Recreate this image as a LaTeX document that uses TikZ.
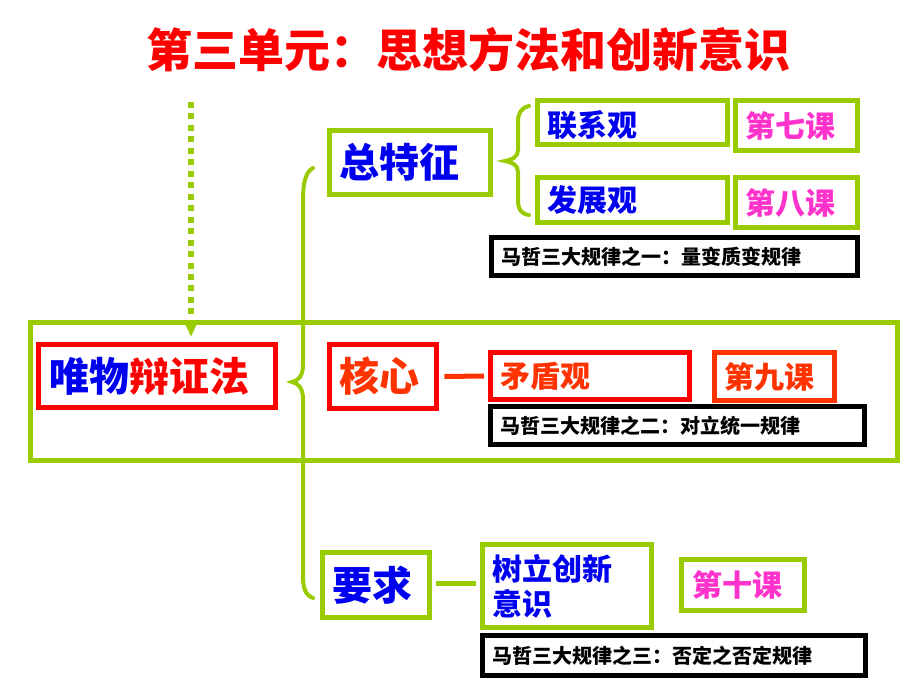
\documentclass[tikz,border=0pt]{standalone}
\usepackage{fontspec}
\setmainfont{Noto Sans CJK SC}
\usetikzlibrary{arrows.meta}
\definecolor{lgreen}{RGB}{153,204,0}
\definecolor{tblue}{RGB}{0,0,240}
\definecolor{tmag}{RGB}{255,51,204}
\definecolor{tred}{RGB}{255,0,0}
\definecolor{tora}{RGB}{255,51,0}
\begin{document}
\begin{tikzpicture}[x=0.75pt,y=-0.75pt, font=\bfseries,
  box/.style={line width=3.75pt, fill=white, inner ysep=0pt, align=left},
  gbox/.style={box, draw=lgreen},
  rbox/.style={box, draw=tred},
  obox/.style={box, draw=tora},
  kbox/.style={box, draw=black, font=\bfseries\fontsize{15}{18}\selectfont, text=black, inner xsep=7.5pt},
  big/.style={font=\bfseries\fontsize{30}{36}\selectfont},
  mid/.style={font=\bfseries\fontsize{22.5}{26}\selectfont},
  brace/.style={draw=lgreen, line width=3pt, line cap=round},
]
\useasboundingbox (0,0) rectangle (920,690);

% title
\node[text=tred, font=\bfseries\fontsize{34.5}{40}\selectfont] (title) at (468,50) {第三单元：思想方法和创新意识};

% frame
\node[draw=lgreen, line width=3.75pt, minimum width=650.25pt, minimum height=103.5pt, inner sep=0pt] (frame) at (463.5,391) {};

% main brace
\draw[brace] (313,168) .. controls (305,172) and (303,185) .. (303,200) -- (303,365)
  .. controls (303,376) and (298,381) .. (292,382)
  .. controls (298,383) and (303,388) .. (303,399) -- (303,575)
  .. controls (303,590) and (306,595) .. (313,598);

% small brace
\draw[brace] (529,106) .. controls (521,108) and (518,113) .. (518,122) -- (518,150)
  .. controls (518,157) and (512,160) .. (505,161)
  .. controls (512,162) and (518,165) .. (518,172) -- (518,200)
  .. controls (518,209) and (521,214) .. (529,215);

% dotted arrow
\coordinate (arrS) at (191,102);
\coordinate (arrE) at (191,337);
\draw[lgreen, line width=4.5pt, dash pattern=on 4.5pt off 4.1pt, -{Triangle[width=9pt,length=11pt]}] (arrS) -- (arrE);

% top group
\node[gbox, big, text=tblue, minimum width=120.75pt, minimum height=48pt, inner xsep=7.5pt, text width=105.75pt] (zt) at (410,162.5) {总特征};
\node[gbox, mid, text=tblue, minimum width=142.5pt, minimum height=33pt, inner xsep=7.5pt, text width=127.5pt, text height=23pt, text depth=1.5pt] (lx) at (632.5,122.5) {联系观};
\node[gbox, mid, text=tmag, minimum width=91.5pt, minimum height=37.5pt, inner xsep=7.5pt, text width=76.5pt] (k7) at (796.5,125.5) {第七课};
\node[gbox, mid, text=tblue, minimum width=142.5pt, minimum height=33.75pt, inner xsep=7.5pt, text width=127.5pt] (fz) at (632.5,200) {发展观};
\node[gbox, mid, text=tmag, minimum width=91.5pt, minimum height=37.5pt, inner xsep=7.5pt, text width=76.5pt] (k8) at (796.5,202.5) {第八课};
\node[kbox, minimum width=274.5pt, minimum height=28.5pt, text width=259.5pt] (law1) at (674.5,256.5) {马哲三大规律之一：量变质变规律};

% middle group
\node[rbox, big, text=tred, minimum width=177.75pt, minimum height=47.25pt, inner xsep=8.5pt, text width=160.75pt] (wz) at (157,376) {{\color{tblue}唯物}辩证法};
\node[rbox, big, text=tora, minimum width=80.25pt, minimum height=48pt, inner xsep=7.5pt, text width=65.25pt] (hx) at (383,376.5) {核心};
\node[rbox, mid, text=tora, minimum width=149.25pt, minimum height=35.25pt, inner xsep=7.5pt, text width=134.25pt] (md) at (590,376) {矛盾观};
\node[obox, mid, text=tora, minimum width=90pt, minimum height=36pt, inner xsep=7.5pt, text width=75pt] (k9) at (774.5,376.5) {第九课};
\node[kbox, minimum width=280.5pt, minimum height=28.5pt, text width=265.5pt] (law2) at (677.5,425.5) {马哲三大规律之二：对立统一规律};
\draw[tora, line width=3.75pt, shorten <=4pt, shorten >=3pt] (hx.east) -- (md.west);

% bottom group
\node[gbox, big, text=tblue, minimum width=80.25pt, minimum height=48.75pt, inner xsep=7.5pt, text width=65.25pt] (yq) at (376,585) {要求};
\node[gbox, mid, text=tblue, minimum width=126.75pt, minimum height=62.25pt, inner xsep=7.5pt, text width=111.75pt] (sl) at (567,586) {树立创新\\意识};
\node[gbox, mid, text=tmag, minimum width=92.25pt, minimum height=38.25pt, inner xsep=8.5pt, text width=75.25pt] (k10) at (743,585) {第十课};
\node[kbox, minimum width=287.25pt, minimum height=30pt, text width=272.25pt] (law3) at (674,655.5) {马哲三大规律之三：否定之否定规律};
\draw[lgreen, line width=3.75pt, shorten <=3pt, shorten >=3pt] (yq.east |- 0,583) -- (sl.west |- 0,583);
\end{tikzpicture}
\end{document}
